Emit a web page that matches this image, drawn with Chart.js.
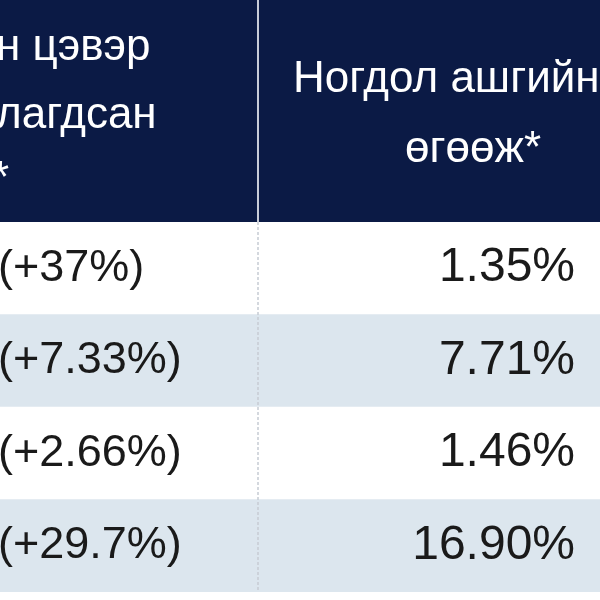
<!DOCTYPE html>
<html><head><meta charset="utf-8">
<script src="https://cdn.jsdelivr.net/npm/chart.js@4"></script>
<style>html,body{margin:0;padding:0;background:#fff}#c{display:block}</style>
</head><body>
<div style="width:600px;height:600px"><canvas id="c" width="600" height="600"></canvas></div>
<script>
const rowLabels = ["r1","r2","r3","r4"];
const growthText = ["(+37%)","(+7.33%)","(+2.66%)","(+29.7%)"];
const yieldValues = [1.35, 7.71, 1.46, 16.90];
const headerLeft = ["н цэвэр","лагдсан","*"];
const headerRight = ["Ногдол ашгийн","өгөөж*"];
const rowColors = ["#ffffff","#dce6ee","#ffffff","#dce6ee"];

const tablePlugin = {
  id:'table',
  beforeDatasetsDraw(chart){
    const ctx = chart.ctx;
    ctx.save();
    ctx.fillStyle = '#0b1a45';
    ctx.fillRect(0,0,600,chart.chartArea.top);
    ctx.restore();
  },
  afterDatasetsDraw(chart){
    const ctx = chart.ctx, y = chart.scales.y, a = chart.chartArea;
    ctx.save();
    ctx.fillStyle='#ffffff';
    ctx.font='44px "Liberation Sans", Arial, sans-serif';
    ctx.textBaseline='alphabetic';
    ctx.textAlign='left';
    ctx.fillText(headerLeft[0], -4, 60);
    ctx.fillText(headerLeft[1], -4, 128);
    ctx.fillText(headerLeft[2], -8, 192);
    ctx.fillText(headerRight[0], 293, 92);
    ctx.fillText(headerRight[1], 405, 162);
    ctx.fillStyle='#c8ccd8';
    ctx.fillRect(257,0,2,a.top);
    ctx.strokeStyle='#c6ccd4'; ctx.lineWidth=1.5; ctx.setLineDash([3,2]);
    ctx.beginPath(); ctx.moveTo(258,a.top); ctx.lineTo(258,a.bottom); ctx.stroke();
    ctx.setLineDash([]);
    ctx.fillStyle='#1a1a1a';
    ctx.textBaseline='middle';
    rowLabels.forEach((r,i)=>{
      const py = y.getPixelForValue(i);
      ctx.font='45px "Liberation Sans", Arial, sans-serif';
      ctx.textAlign='left';
      ctx.fillText(growthText[i], -2, py);
      ctx.font='48px "Liberation Sans", Arial, sans-serif';
      ctx.textAlign='right';
      ctx.fillText(yieldValues[i].toFixed(2)+'%', 575, py);
    });
    ctx.restore();
  }
};

new Chart(document.getElementById('c'),{
  type:'bar',
  data:{labels:rowLabels,datasets:[{data:rowLabels.map(()=>[0,600]),backgroundColor:rowColors,barPercentage:1,categoryPercentage:1,borderWidth:0}]},
  options:{
    indexAxis:'y',responsive:false,animation:false,
    layout:{padding:{top:222,bottom:8,left:0,right:0}},
    plugins:{legend:{display:false},tooltip:{enabled:false}},
    scales:{x:{type:'linear',min:0,max:600,display:false},y:{type:'category',display:false}}
  },
  plugins:[tablePlugin]
});
</script>
</body></html>
